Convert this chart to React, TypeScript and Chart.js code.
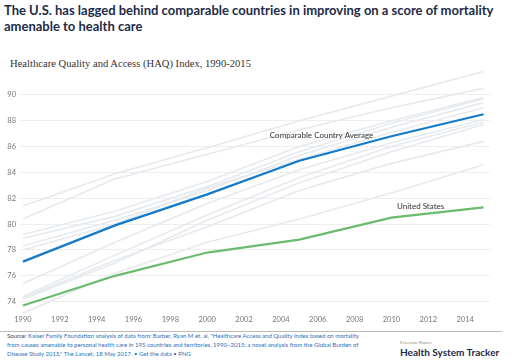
import React, { useEffect, useRef } from "react";
import { Chart, registerables } from "chart.js";
Chart.register(...registerables);

const years = [1990, 1995, 2000, 2005, 2010, 2015];
const xTicks = [1990, 1992, 1994, 1996, 1998, 2000, 2002, 2004, 2006, 2008, 2010, 2012, 2014];
const yTicks = [74, 76, 78, 80, 82, 84, 86, 88, 90];

const comparableAvg = [77.1, 79.9, 82.3, 84.9, 86.8, 88.5];
const unitedStates = [73.7, 76.0, 77.8, 78.8, 80.5, 81.3];

const countryA = [81.4, 83.9, 85.9, 88.0, 89.9, 91.8];
const countryB = [80.4, 83.5, 85.4, 87.3, 89.0, 90.5];
const countryC = [79.2, 81.0, 83.3, 86.0, 88.0, 89.8];
const countryD = [78.9, 80.6, 82.9, 85.6, 87.8, 89.7];
const countryE = [78.3, 80.3, 82.6, 85.3, 87.5, 89.4];
const countryF = [78.0, 80.0, 82.8, 85.0, 87.1, 89.0];
const countryG = [75.4, 78.6, 81.6, 84.2, 86.3, 88.1];
const countryH = [74.4, 77.6, 80.7, 83.6, 86.0, 87.9];
const countryI = [74.2, 77.0, 80.3, 83.2, 85.6, 87.7];
const countryJ = [74.3, 77.2, 79.8, 82.6, 84.7, 86.4];
const countryK = [73.1, 76.2, 78.6, 80.4, 82.4, 84.6];

const grayCountries = [countryA, countryB, countryC, countryD, countryE, countryF, countryG, countryH, countryI, countryJ, countryK];

const BLUE = "#127ac8";
const GREEN = "#6abb6e";
const GRAY = "#e6eaee";

const toPts = (vals: number[]) => vals.map((v, i) => ({ x: years[i], y: v }));

const labelPlugin = {
  id: "seriesLabels",
  afterDatasetsDraw(chart: any) {
    const { ctx, scales } = chart;
    ctx.save();
    ctx.font = "8px Lato";
    ctx.fillStyle = "#333";
    ctx.textAlign = "left";
    ctx.textBaseline = "middle";
    ctx.fillText("Comparable Country Average", scales.x.getPixelForValue(2003.4), scales.y.getPixelForValue(86.86));
    ctx.fillText("United States", scales.x.getPixelForValue(2010.3), scales.y.getPixelForValue(81.4));
    ctx.restore();
  },
};

export default function App() {
  const ref = useRef<HTMLCanvasElement>(null);
  useEffect(() => {
    const datasets: any[] = [
      { data: toPts(comparableAvg), borderColor: BLUE, borderWidth: 2.2 },
      { data: toPts(unitedStates), borderColor: GREEN, borderWidth: 2.2 },
      ...grayCountries.map((c) => ({ data: toPts(c), borderColor: GRAY, borderWidth: 1.6 })),
    ];
    const chart = new Chart(ref.current!, {
      type: "line",
      data: { datasets },
      plugins: [labelPlugin],
      options: {
        animation: false,
        responsive: false,
        devicePixelRatio: 1,
        elements: { point: { radius: 0 }, line: { tension: 0 } },
        layout: { padding: { top: 9, right: 22, bottom: 0, left: 0 } },
        plugins: { legend: { display: false }, tooltip: { enabled: false } },
        scales: {
          x: {
            type: "linear",
            min: 1989.84,
            max: 2015.35,
            grid: { display: false, drawTicks: false },
            border: { display: false },
            afterBuildTicks: (s: any) => {
              s.ticks = xTicks.map((v) => ({ value: v }));
            },
            afterFit: (s: any) => {
              s.height = 15.4;
            },
            ticks: {
              padding: 0,
              maxRotation: 0,
              autoSkip: false,
              color: "#777",
              font: { family: "Lato", size: 7.5 },
              callback: (v: any) => String(v),
            },
          },
          y: {
            min: 73,
            max: 92,
            grid: { color: "#eceef0", drawTicks: false, lineWidth: 1 },
            border: { display: false },
            afterBuildTicks: (s: any) => {
              s.ticks = yTicks.map((v) => ({ value: v }));
            },
            afterFit: (s: any) => {
              s.width = 20;
            },
            ticks: {
              padding: 4,
              color: "#777",
              font: { family: "Lato", size: 7.5 },
              callback: (v: any) => String(v),
            },
          },
        },
      },
    });
    return () => chart.destroy();
  }, []);

  return (
    <div style={{ position: "fixed", left: 0, top: 0, width: 512, height: 361, background: "#fff", overflow: "hidden" }}>
      <div
        style={{
          position: "absolute",
          left: 4,
          top: 3,
          width: 500,
          fontFamily: "Lato",
          fontWeight: 700,
          fontSize: 13,
          lineHeight: "15.5px",
          color: "#1d2b49",
        }}
      >
        The U.S. has lagged behind comparable countries in improving on a score of mortality
        <br />
        amenable to health care
      </div>
      <div
        style={{
          position: "absolute",
          left: 10,
          top: 58,
          fontFamily: "Liberation Serif",
          fontSize: 10.6,
          color: "#333",
          whiteSpace: "nowrap",
        }}
      >
        Healthcare Quality and Access (HAQ) Index, 1990-2015
      </div>
      <canvas ref={ref} width={512} height={270} style={{ position: "absolute", left: 0, top: 60, width: 512, height: 270 }} />
      <div style={{ position: "absolute", left: 0, top: 331, width: 502, height: 1, background: "#bbb" }} />
      <div
        style={{
          position: "absolute",
          left: 7,
          top: 331,
          fontFamily: "Lato",
          fontSize: 6,
          lineHeight: "9px",
          color: "#2c6fb7",
          whiteSpace: "nowrap",
        }}
      >
        <span style={{ color: "#444" }}>Source: </span>Kaiser Family Foundation analysis of data from: Barber, Ryan M et. al, "Healthcare Access and Quality Index based on mortality
        <br />
        from causes amenable to personal health care in 195 countries and territories, 1990–2015: a novel analysis from the Global Burden of
        <br />
        Disease Study 2015," The Lancet, 18 May 2017. • Get the data • PNG
      </div>
      <div style={{ position: "absolute", left: 400, top: 340, fontFamily: "Liberation Serif", fontSize: 5, color: "#888" }}>Peterson-Kaiser</div>
      <div
        style={{
          position: "absolute",
          left: 400,
          top: 346,
          fontFamily: "Lato",
          fontWeight: 700,
          fontSize: 10,
          color: "#1d2b49",
          whiteSpace: "nowrap",
        }}
      >
        Health System Tracker
      </div>
    </div>
  );
}
